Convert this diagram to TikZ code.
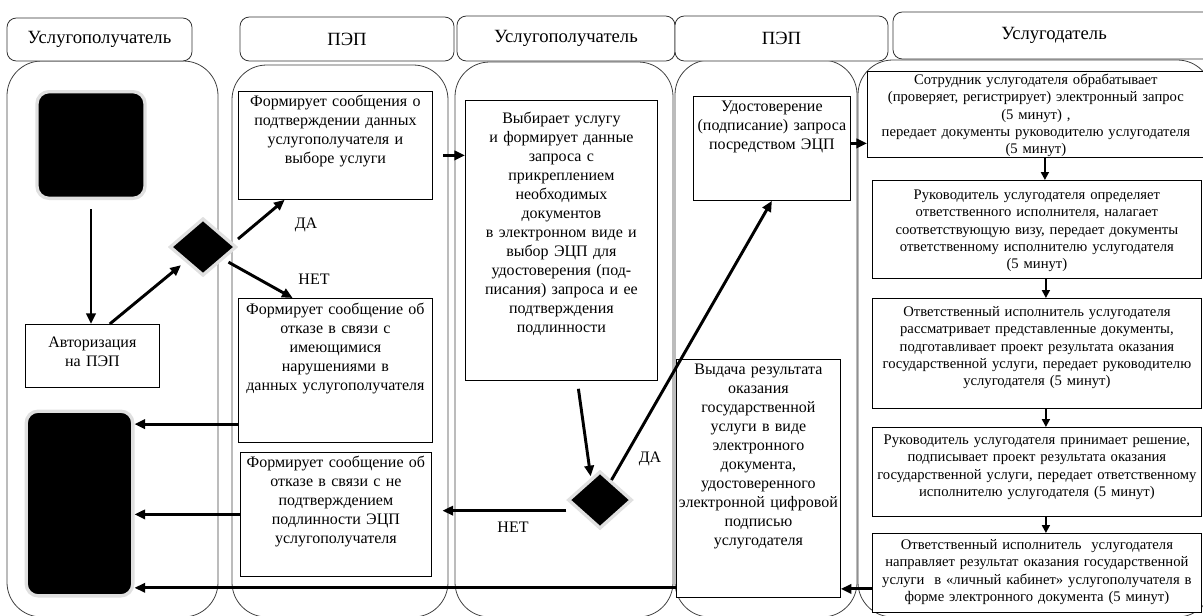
\documentclass[tikz,border=0pt]{standalone}
\usepackage{fontspec}
\setmainfont{Liberation Serif}
\usetikzlibrary{shapes.geometric, arrows.meta}

\begin{document}
\begin{tikzpicture}[x=0.75pt, y=-0.75pt, >={Triangle[length=8pt,width=7pt]},
lane/.style={draw=black!75, line width=0.6pt, rounded corners=26pt},
lanehead/.style={draw=black!80, line width=0.6pt, rounded corners=7pt, fill=white, font=\fontsize{14}{16}\selectfont},
procbox/.style={draw, line width=0.6pt, fill=white, anchor=north west, align=center, inner xsep=0pt, inner ysep=2pt},
rightbox/.style={procbox, font=\fontsize{11}{13}\selectfont},
termbox/.style={fill=black, draw=black!12, line width=2.5pt, rounded corners=9pt, inner sep=0pt},
decision/.style={diamond, fill=black, draw=black!12, line width=2.5pt, inner sep=0pt},
flow/.style={->, line width=2.2pt},
thinflow/.style={-{Triangle[length=6pt,width=6pt]}, line width=1.3pt}]
\tikzstyle{every node}=[font=\fontsize{12}{14.25}\selectfont]
\useasboundingbox (0,0) rectangle (1203,615);

% lanes
\draw[lane] (7,61) rectangle (218,617);
\draw[lane] (232,65) rectangle (448,617);
\draw[lane] (455,62) rectangle (673,617);
\draw[lane] (675,60) rectangle (857,617);
\draw[lane] (858,60) rectangle (1212,617);

% lane headers
\node[lanehead, minimum width=138.75pt, minimum height=32.25pt] (h1) at (99.5,39.5) {Услугополучатель};
\node[lanehead, minimum width=160.5pt, minimum height=33pt] (h2) at (347,39) {ПЭП};
\node[lanehead, minimum width=163.5pt, minimum height=33.75pt] (h3) at (566,38.5) {Услугополучатель};
\node[lanehead, minimum width=159.75pt, minimum height=33.75pt] (h4) at (781.5,38.5) {ПЭП};
\node[lanehead, minimum width=241.5pt, minimum height=35.25pt] (h5) at (1054,35.5) {Услугодатель};

% Uslugopoluchatel
\node[termbox, minimum width=81pt, minimum height=80pt] (start) at (91,145) {};
\node[procbox, text width=100.5pt, text height=15.25pt, text depth=28pt] (auth) at (25,324) {Авторизация\\ на ПЭП};
\node[termbox, minimum width=80pt, minimum height=138.5pt] (fin) at (79.5,503.5) {};
\node[decision, minimum width=50pt, minimum height=43pt] (d1) at (203,247) {};

% PEP
\node[procbox, text width=145.5pt, text height=9.25pt, text depth=67.75pt] (b1) at (238,91)
  {Формирует сообщения о\\ подтверждении данных\\ услугополучателя и\\ выборе услуги};
\node[procbox, text width=145.5pt, text height=10pt, text depth=94pt] (b2) at (238,298)
  {Формирует сообщение об\\ отказе в связи с\\ имеющимися\\ нарушениями в\\ данных услугополучателя};
\node[procbox, text width=143.25pt, text height=9.25pt, text depth=79.75pt] (b3) at (240,452)
  {Формирует сообщение об\\ отказе в связи с не\\ подтверждением\\ подлинности ЭЦП\\ услугополучателя};
\node (yes1) at (306,225) {ДА};
\node (no1) at (314,279) {НЕТ};

% Uslugopoluchatel
\node[procbox, text width=144pt, text height=15pt, text depth=191pt] (sel) at (465,100)
  {Выбирает услугу\\ и формирует данные\\ запроса с\\ прикреплением\\ необходимых\\ документов\\ в электронном виде и\\ выбор ЭЦП для\\ удостоверения (под-\\ писания) запроса и ее\\ подтверждения\\ подлинности};
\node[decision, minimum width=48pt, minimum height=43pt] (d2) at (600,500) {};
\node (yes2) at (650,459) {ДА};
\node (no2) at (513,527) {НЕТ};

% PEP
\node[procbox, text width=117.75pt, text height=9.25pt, text depth=64.75pt] (cert) at (693,96)
  {Удостоверение\\ (подписание) запроса\\ посредством ЭЦП};
\node[procbox, text width=123pt, text height=9.25pt, text depth=165.25pt] (iss) at (676,359)
  {Выдача результата\\ оказания\\ государственной\\ услуги в виде\\ электронного\\ документа,\\ удостоверенного\\ электронной цифровой\\ подписью\\ услугодателя};

% Uslugodatel
\node[rightbox, text width=252.75pt, text height=7.75pt, text depth=52.75pt] (r1) at (867,71)
  {Сотрудник услугодателя обрабатывает\\ (проверяет, регистрирует) электронный запрос\\ (5 минут) ,\\ передает документы руководителю услугодателя\\ (5 минут)};
\node[rightbox, text width=246.75pt, text height=12.25pt, text depth=57.25pt] (r2) at (872,180)
  {Руководитель услугодателя определяет\\ ответственного исполнителя, налагает\\ соответствующую визу, передает документы\\ ответственному исполнителю услугодателя\\ (5 минут)};
\node[rightbox, text width=246.75pt, text height=11.5pt, text depth=67pt] (r3) at (872,298)
  {Ответственный исполнитель услугодателя\\ рассматривает представленные документы,\\ подготавливает проект результата оказания\\ государственной услуги, передает руководителю\\ услугодателя (5 минут)};
\node[rightbox, text width=246.75pt, text height=10.75pt, text depth=52pt] (r4) at (872,427)
  {Руководитель услугодателя принимает решение,\\ подписывает проект результата оказания\\ государственной услуги, передает ответственному\\ исполнителю услугодателя (5 минут)};
\node[rightbox, text width=246.75pt, text height=10pt, text depth=45.25pt] (r5) at (872,533)
  {Ответственный исполнитель \ услугодателя\\ направляет результат оказания государственной\\ услуги \ в «личный кабинет» услугополучателя в\\ форме электронного документа (5 минут)};

% connectors
\draw[flow] ([yshift=-7pt]start.south) -- (start.south |- auth.north);
\draw[flow, shorten >=4pt] ([xshift=13pt]auth.north) -- (d1);
\draw[flow] ([yshift=6pt]d1.east) -- ([xshift=35pt]b1.south west);
\draw[flow] ([xshift=6pt]d1.south east) -- ([xshift=41pt]b2.north west);
\draw[flow] ([xshift=8pt,yshift=-7.5pt]b1.east) -- ([yshift=-7.5pt]b1.east -| sel.west);
\draw[flow] ([xshift=12.75pt,yshift=-6pt]sel.south) -- ([xshift=-7pt,yshift=-5pt]d2.north);
\draw[flow] (d2) -- (cert.south);
\draw[flow, shorten >=8pt] ([yshift=-8pt]d2.west) -- ([yshift=-8pt]d2.west -| b3.east);
\draw[flow] ([yshift=14pt]b2.south west) -- ([yshift=14pt]b2.south west -| fin.east);
\draw[flow] (b3.west) -- (b3.west -| fin.east);
\draw[flow] ([yshift=7.5pt]iss.south west) -- ([yshift=7.5pt]iss.south west -| fin.east);
\draw[flow] ([yshift=-12pt]r5.west) -- ([yshift=-12pt]r5.west -| iss.east);
\draw[flow] ([yshift=3.75pt]cert.east) -- ([yshift=3.75pt]cert.east -| r1.west);
\foreach \a/\b in {r1/r2, r2/r3, r3/r4, r4/r5}
  \draw[thinflow] ([xshift=6.75pt]\a.south) -- ([xshift=6.75pt]\a.south |- \b.north);
\end{tikzpicture}
\end{document}
